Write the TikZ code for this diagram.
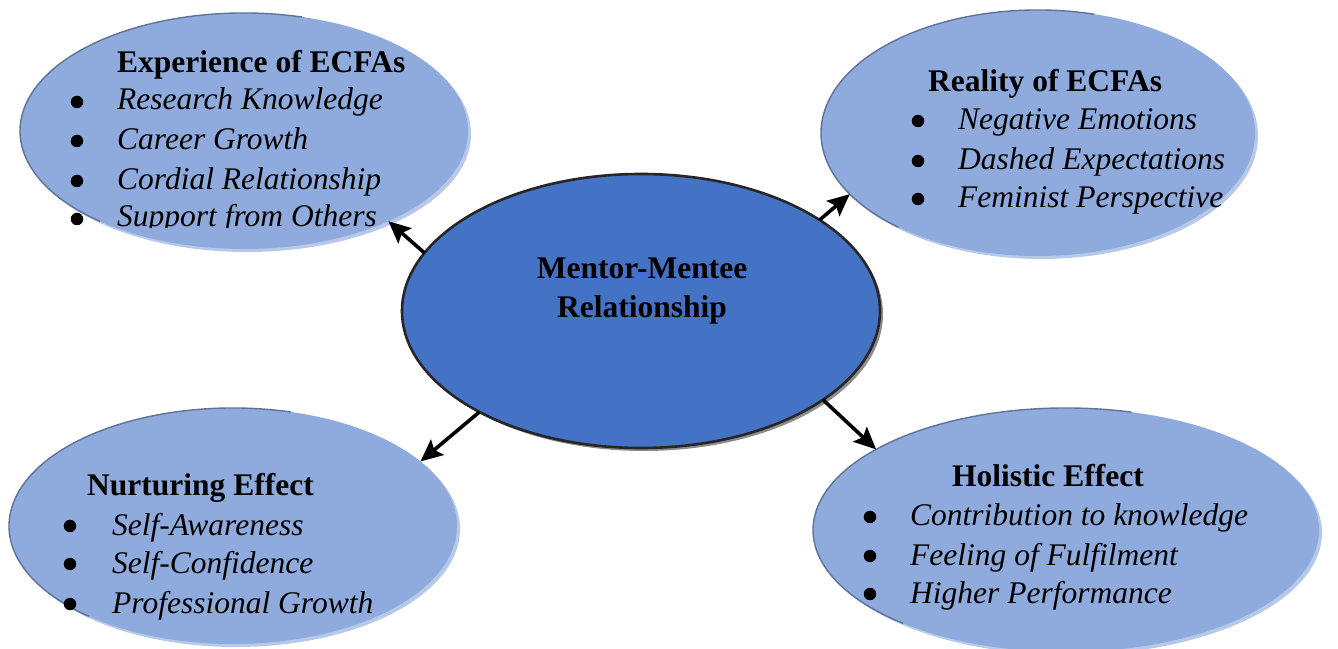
\documentclass[tikz,border=0pt]{standalone}
\usepackage{fontspec}
\setmainfont{Liberation Serif}
\usetikzlibrary{shapes.geometric,arrows.meta}

\definecolor{bubblefill}{HTML}{8FAADC}
\definecolor{bubbleshade}{HTML}{B7C9E8}
\definecolor{bubblerim}{HTML}{5F7399}
\definecolor{corefill}{HTML}{4472C4}
\definecolor{corerim}{HTML}{262626}
\definecolor{coreshade}{HTML}{8C8C8C}

\tikzset{
  bubble/.style={ellipse, fill=bubblefill, inner sep=0pt, outer sep=0pt},
  core/.style={ellipse, fill=corefill, draw=corerim, line width=2.6pt, inner sep=0pt, outer sep=0pt},
  rim/.style={draw=bubblerim, line width=1.4pt},
  head/.style={font=\fontsize{31.5pt}{38pt}\selectfont\bfseries, inner sep=0pt, anchor=base west},
  item/.style={font=\fontsize{31.5pt}{38pt}\selectfont\itshape, inner sep=0pt, anchor=base west},
  dot/.style={circle, fill=black, inner sep=0pt, minimum size=12.5pt},
  link/.style={line width=3.6pt, -{Stealth[length=22pt,width=20pt,inset=4pt]}}
}

% light-blue theme bubble: soft shade, fill and a darker upper-left rim
\newcommand\mmbubble[4]{% name, centre, x radius, y radius
  \coordinate (#1c) at #2;
  \fill[bubbleshade] ([shift={(3,-3)}]#1c) ellipse [x radius=#3pt, y radius=#4pt];
  \node[bubble, minimum width=2*#3pt, minimum height=2*#4pt] (#1) at (#1c) {};
  \draw[rim] ([shift={(75:#3pt and #4pt)}]#1c)
     arc [start angle=75, end angle=230, x radius=#3pt, y radius=#4pt];
}

\begin{document}
\begin{tikzpicture}[x=1pt,y=1pt]
\useasboundingbox (0,0) rectangle (1338,648);

% outer theme bubbles
\mmbubble{tl}{(244,517)}{224}{118}
\mmbubble{tr}{(1038,515)}{217}{123}
\mmbubble{bl}{(233,122)}{224}{118}
\mmbubble{br}{(1066,118)}{253}{122}

% central bubble
\coordinate (cc) at (641,337);
\fill[coreshade] ([shift={(3,-3)}]cc) ellipse [x radius=239pt, y radius=137pt];
\node[core, minimum width=478pt, minimum height=274pt] (c) at (cc) {};

% connectors
\draw[link] (c.165) -- (tl.-32);
\draw[link] (c.27) -- (tr.198);
\draw[link] (c.212) -- (bl.19);
\draw[link] (c.-26) -- (br.157);

% central label
\node[head, anchor=base] (ct1) at (642,369) {Mentor-Mentee};
\node[head, anchor=base] (ct2) at (642,330) {Relationship};

% Experience of ECFAs
\node[head] (tlh) at (117,575) {Experience of ECFAs};
\node[dot] (tlb1) at (77,546) {};
\node[item] (tli1) at (117,538) {Research Knowledge};
\node[dot] (tlb2) at (77,507) {};
\node[item] (tli2) at (117,498) {Career Growth};
\node[dot] (tlb3) at (77,467) {};
\node[item] (tli3) at (117,458) {Cordial Relationship};
\begin{scope}
  \clip (0,420) rectangle (480,470);
  \node[dot] (tlb4) at (77,429) {};
  \node[item] (tli4) at (117,421) {Support from Others};
\end{scope}

% Reality of ECFAs
\node[head] (trh) at (928,556) {Reality of ECFAs};
\node[dot] (trb1) at (918,527) {};
\node[item] (tri1) at (958,518) {Negative Emotions};
\node[dot] (trb2) at (918,487) {};
\node[item] (tri2) at (958,478) {Dashed Expectations};
\node[dot] (trb3) at (918,449) {};
\node[item] (tri3) at (958,440) {Feminist Perspective};

% Nurturing Effect
\node[head] (blh) at (87,152) {Nurturing Effect};
\node[dot] (blb1) at (70,122) {};
\node[item] (bli1) at (112,113) {Self-Awareness};
\node[dot] (blb2) at (70,84) {};
\node[item] (bli2) at (112,75) {Self-Confidence};
\node[dot] (blb3) at (70,44) {};
\node[item] (bli3) at (112,35) {Professional Growth};

% Holistic Effect
\node[head] (brh) at (952,161) {Holistic Effect};
\node[dot] (brb1) at (870,131) {};
\node[item] (bri1) at (910,122) {Contribution to knowledge};
\node[dot] (brb2) at (870,92) {};
\node[item] (bri2) at (910,83) {Feeling of Fulfilment};
\node[dot] (brb3) at (870,54) {};
\node[item] (bri3) at (910,45) {Higher Performance};
\end{tikzpicture}
\end{document}
